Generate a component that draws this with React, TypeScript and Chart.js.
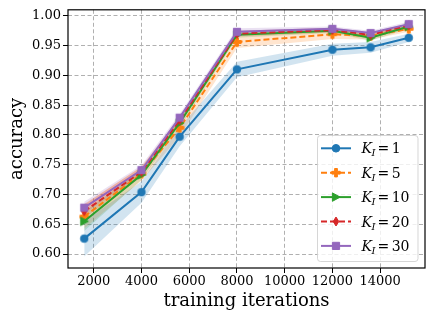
import React, { useEffect, useRef } from "react";
import { Chart, registerables } from "chart.js";

Chart.register(...registerables);

const iterations = [1600, 4000, 5600, 8000, 12000, 13600, 15200];
const acc1 = [0.626, 0.704, 0.797, 0.910, 0.943, 0.947, 0.963];
const acc5 = [0.663, 0.735, 0.812, 0.956, 0.969, 0.966, 0.978];
const acc10 = [0.655, 0.733, 0.820, 0.968, 0.975, 0.963, 0.982];
const acc20 = [0.672, 0.738, 0.825, 0.970, 0.976, 0.968, 0.984];
const acc30 = [0.678, 0.741, 0.829, 0.973, 0.978, 0.971, 0.986];
const std1 = [0.030, 0.018, 0.016, 0.013, 0.010, 0.009, 0.007];
const std5 = [0.020, 0.012, 0.014, 0.010, 0.008, 0.006, 0.005];
const std10 = [0.016, 0.008, 0.008, 0.005, 0.004, 0.005, 0.004];
const std20 = [0.012, 0.008, 0.006, 0.005, 0.004, 0.004, 0.003];
const std30 = [0.010, 0.008, 0.006, 0.006, 0.004, 0.004, 0.004];
const kValues = ["1", "5", "10", "20", "30"];
const xTicks = [2000, 4000, 6000, 8000, 10000, 12000, 14000];
const yTicks = [0.6, 0.65, 0.7, 0.75, 0.8, 0.85, 0.9, 0.95, 1.0];

const colors = ["#1f77b4", "#ff7f0e", "#2ca02c", "#d62728", "#9467bd"];
const fills = [
  "rgba(31,119,180,0.2)",
  "rgba(255,127,14,0.2)",
  "rgba(44,160,44,0.2)",
  "rgba(214,39,40,0.2)",
  "rgba(148,103,189,0.2)",
];
const markers = ["circle", "plus", "triright", "thindiamond", "square"];
const dashes: number[][] = [[], [6, 3], [], [6, 3], []];

function drawMarker(ctx: CanvasRenderingContext2D, kind: string, x: number, y: number, color: string) {
  ctx.save();
  ctx.fillStyle = color;
  ctx.strokeStyle = color;
  ctx.lineWidth = 1;
  ctx.setLineDash([]);
  ctx.beginPath();
  if (kind === "circle") {
    ctx.arc(x, y, 3.8, 0, Math.PI * 2);
  } else if (kind === "plus") {
    const a = 4.2, b = 1.4;
    ctx.moveTo(x - b, y - a);
    ctx.lineTo(x + b, y - a);
    ctx.lineTo(x + b, y - b);
    ctx.lineTo(x + a, y - b);
    ctx.lineTo(x + a, y + b);
    ctx.lineTo(x + b, y + b);
    ctx.lineTo(x + b, y + a);
    ctx.lineTo(x - b, y + a);
    ctx.lineTo(x - b, y + b);
    ctx.lineTo(x - a, y + b);
    ctx.lineTo(x - a, y - b);
    ctx.lineTo(x - b, y - b);
    ctx.closePath();
  } else if (kind === "triright") {
    ctx.moveTo(x + 4.2, y);
    ctx.lineTo(x - 3.6, y - 4.2);
    ctx.lineTo(x - 3.6, y + 4.2);
    ctx.closePath();
  } else if (kind === "thindiamond") {
    ctx.moveTo(x, y - 4.5);
    ctx.lineTo(x + 2.8, y);
    ctx.lineTo(x, y + 4.5);
    ctx.lineTo(x - 2.8, y);
    ctx.closePath();
  } else {
    ctx.rect(x - 3.6, y - 3.6, 7.2, 7.2);
  }
  ctx.fill();
  ctx.stroke();
  ctx.restore();
}

function makeMarkerCanvas(kind: string, color: string) {
  const c = document.createElement("canvas");
  c.width = 14;
  c.height = 14;
  const ctx = c.getContext("2d")!;
  drawMarker(ctx, kind, 7, 7, color);
  return c;
}

const frameAndLegend = {
  id: "frameAndLegend",
  afterDraw(chart: any) {
    const { ctx, chartArea } = chart;
    ctx.save();
    ctx.strokeStyle = "#000";
    ctx.lineWidth = 1.2;
    ctx.setLineDash([]);
    ctx.strokeRect(chartArea.left, chartArea.top, chartArea.right - chartArea.left, chartArea.bottom - chartArea.top);

    // legend box
    const bx = 317.5, by = 135.5, bw = 100.5, bh = 126;
    const r = 3;
    ctx.beginPath();
    ctx.moveTo(bx + r, by);
    ctx.lineTo(bx + bw - r, by);
    ctx.arcTo(bx + bw, by, bx + bw, by + r, r);
    ctx.lineTo(bx + bw, by + bh - r);
    ctx.arcTo(bx + bw, by + bh, bx + bw - r, by + bh, r);
    ctx.lineTo(bx + r, by + bh);
    ctx.arcTo(bx, by + bh, bx, by + bh - r, r);
    ctx.lineTo(bx, by + r);
    ctx.arcTo(bx, by, bx + r, by, r);
    ctx.closePath();
    ctx.fillStyle = "rgba(255,255,255,0.8)";
    ctx.fill();
    ctx.strokeStyle = "rgba(204,204,204,0.8)";
    ctx.lineWidth = 1;
    ctx.stroke();

    const rowY0 = 148.3, rowStep = 24.4;
    for (let i = 0; i < kValues.length; i++) {
      const y = rowY0 + i * rowStep;
      ctx.save();
      ctx.strokeStyle = colors[i];
      ctx.lineWidth = 2;
      ctx.setLineDash(dashes[i]);
      ctx.beginPath();
      ctx.moveTo(321, y);
      ctx.lineTo(351, y);
      ctx.stroke();
      ctx.restore();
      drawMarker(ctx, markers[i], 336, y, colors[i]);

      ctx.fillStyle = "#000";
      ctx.textBaseline = "alphabetic";
      ctx.textAlign = "left";
      let x = 361.5;
      const base = y + 5;
      ctx.font = "italic 14px 'DejaVu Serif'";
      ctx.fillText("K", x, base);
      x += ctx.measureText("K").width - 0.5;
      ctx.font = "italic 10px 'DejaVu Serif'";
      ctx.fillText("I", x, base + 3);
      x += ctx.measureText("I").width + 2;
      ctx.font = "14px 'DejaVu Serif'";
      ctx.fillText("=", x, base);
      x += ctx.measureText("=").width + 2.5;
      ctx.fillText(kValues[i], x, base);
    }
    ctx.restore();
  },
};

export default function App() {
  const ref = useRef<HTMLCanvasElement>(null);
  useEffect(() => {
    document.body.style.margin = "0";
    const series = [acc1, acc5, acc10, acc20, acc30];
    const stds = [std1, std5, std10, std20, std30];
    const datasets: any[] = [];
    series.forEach((s, i) => {
      datasets.push({
        label: "K_I=" + kValues[i],
        data: iterations.map((x, j) => ({ x, y: s[j] })),
        borderColor: colors[i],
        backgroundColor: colors[i],
        borderWidth: 2,
        borderDash: dashes[i],
        pointStyle: makeMarkerCanvas(markers[i], colors[i]),
        pointRadius: 4,
        fill: false,
        order: 4 - i,
      });
    });
    series.forEach((s, i) => {
      const lowerIndex = datasets.length;
      datasets.push({
        label: "lower" + i,
        data: iterations.map((x, j) => ({ x, y: s[j] - stds[i][j] })),
        borderWidth: 0,
        borderColor: "rgba(0,0,0,0)",
        pointRadius: 0,
        fill: false,
        order: 20 + i,
      });
      datasets.push({
        label: "upper" + i,
        data: iterations.map((x, j) => ({ x, y: s[j] + stds[i][j] })),
        borderWidth: 0,
        borderColor: "rgba(0,0,0,0)",
        backgroundColor: fills[i],
        pointRadius: 0,
        fill: lowerIndex,
        order: 20 + i,
      });
    });

    const chart = new Chart(ref.current!, {
      type: "line",
      data: { datasets },
      options: {
        animation: false,
        responsive: false,
        events: [],
        layout: { padding: { top: 7, right: 6, left: 0, bottom: 0 } },
        plugins: { legend: { display: false }, tooltip: { enabled: false } },
        scales: {
          x: {
            type: "linear",
            min: 920,
            max: 15880,
            afterBuildTicks: (s: any) => {
              s.ticks = xTicks.map((v) => ({ value: v }));
            },
            afterFit: (s: any) => {
              s.height = 50;
            },
            grid: { color: "#b0b0b0", lineWidth: 1, tickColor: "#000", tickLength: 5, drawTicks: true },
            border: { display: false, dash: [4, 2.5] },
            ticks: {
              color: "#000",
              padding: 1,
              maxRotation: 0,
              autoSkip: false,
              font: { family: "'DejaVu Serif'", size: 13 },
              callback: (v: any) => String(v),
            },
            title: {
              display: true,
              text: "training iterations",
              color: "#000",
              font: { family: "'DejaVu Serif'", size: 18 },
              padding: { top: 0, bottom: 6 },
            },
          },
          y: {
            type: "linear",
            min: 0.5767,
            max: 1.01,
            afterBuildTicks: (s: any) => {
              s.ticks = yTicks.map((v) => ({ value: v }));
            },
            afterFit: (s: any) => {
              s.width = 68;
            },
            grid: { color: "#b0b0b0", lineWidth: 1, tickColor: "#000", tickLength: 5, drawTicks: true },
            border: { display: false, dash: [4, 2.5] },
            ticks: {
              color: "#000",
              padding: 2,
              autoSkip: false,
              font: { family: "'DejaVu Serif'", size: 13 },
              callback: (v: any) => Number(v).toFixed(2),
            },
            title: {
              display: true,
              text: "accuracy",
              color: "#000",
              font: { family: "'DejaVu Serif'", size: 18 },
              padding: { top: 7, bottom: 0 },
            },
          },
        },
      },
      plugins: [frameAndLegend],
    });
    return () => chart.destroy();
  }, []);
  return (
    <div style={{ position: "absolute", left: 0, top: 0, width: 431, height: 318 }}>
      <canvas ref={ref} width={431} height={318} style={{ width: 431, height: 318, display: "block" }} />
    </div>
  );
}
